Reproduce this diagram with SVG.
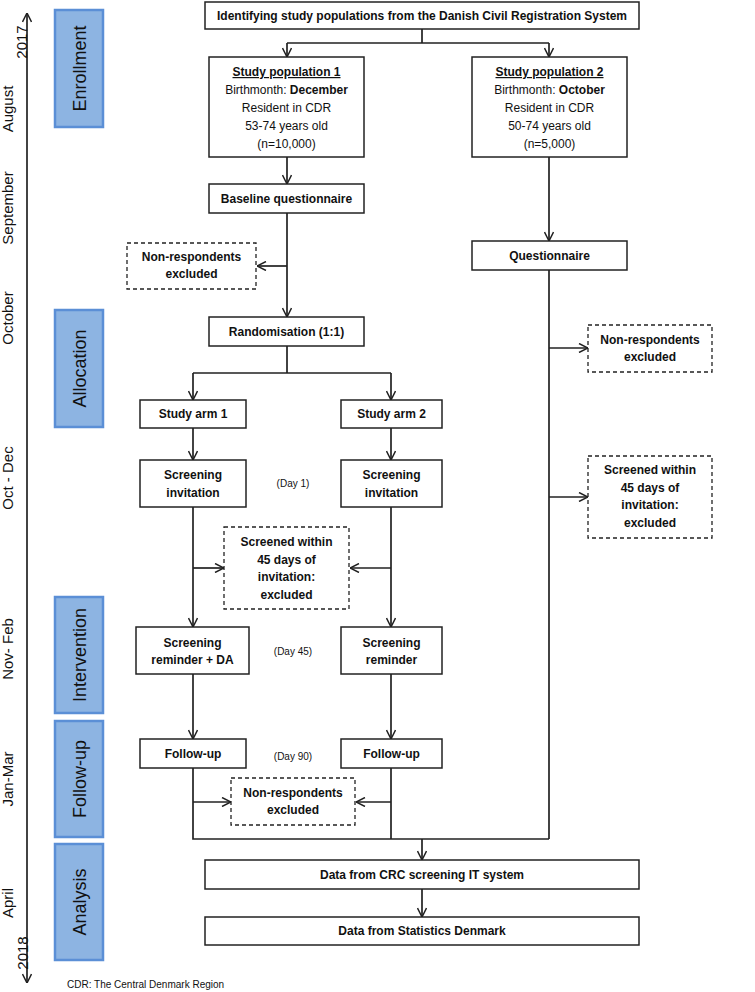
<svg xmlns="http://www.w3.org/2000/svg" width="755" height="992" viewBox="0 0 755 992">
<style>
.bx{fill:#fff;stroke:#222;stroke-width:1.5}
.ds{fill:#fff;stroke:#222;stroke-width:1.3;stroke-dasharray:4,3}
.ph{fill:#8db4e2;stroke:#5b8fd6;stroke-width:2.5}
.t{font-family:"Liberation Sans",Arial,sans-serif;font-size:12px;fill:#111;text-anchor:middle}
.b{font-weight:bold}
.pt{font-family:"Liberation Sans",Arial,sans-serif;font-size:18px;fill:#111;text-anchor:middle}
.mt{font-family:"Liberation Sans",Arial,sans-serif;font-size:15px;fill:#111;text-anchor:middle}
.sm{font-family:"Liberation Sans",Arial,sans-serif;font-size:10px;fill:#111;text-anchor:middle}
.c{fill:none;stroke:#222;stroke-width:1.7}
</style>
<defs>
<marker id="a" viewBox="0 0 10 10" refX="10" refY="5" markerWidth="10" markerHeight="10" markerUnits="userSpaceOnUse" orient="auto">
<path d="M1,0.5 L10,5 L1,9.5" fill="none" stroke="#222" stroke-width="1.5"/>
</marker>
</defs>
<g id="timeline">
<path class="c" d="M27,498 V13" marker-end="url(#a)"/>
<path class="c" d="M27,498 V983" marker-end="url(#a)"/>
<text class="mt" transform="translate(27,42) rotate(-90)">2017</text>
<text class="mt" transform="translate(13,109) rotate(-90)">August</text>
<text class="mt" transform="translate(13,208) rotate(-90)">September</text>
<text class="mt" transform="translate(13,318) rotate(-90)">October</text>
<text class="mt" transform="translate(13,478) rotate(-90)">Oct - Dec</text>
<text class="mt" transform="translate(13,649) rotate(-90)">Nov- Feb</text>
<text class="mt" transform="translate(13,779) rotate(-90)">Jan-Mar</text>
<text class="mt" transform="translate(13,903) rotate(-90)">April</text>
<text class="mt" transform="translate(28,953) rotate(-90)">2018</text>
</g>
<g id="phase-enrollment"><rect class="ph" x="55" y="10" width="48" height="117"/><text class="pt" transform="translate(85.5,68.5) rotate(-90)">Enrollment</text></g>
<g id="phase-allocation"><rect class="ph" x="55" y="310" width="48" height="117"/><text class="pt" transform="translate(85.5,368.5) rotate(-90)">Allocation</text></g>
<g id="phase-intervention"><rect class="ph" x="55" y="597" width="48" height="116"/><text class="pt" transform="translate(85.5,655) rotate(-90)">Intervention</text></g>
<g id="phase-followup"><rect class="ph" x="55" y="721" width="48" height="116"/><text class="pt" transform="translate(85.5,779) rotate(-90)">Follow-up</text></g>
<g id="phase-analysis"><rect class="ph" x="55" y="844" width="48" height="116"/><text class="pt" transform="translate(85.5,902) rotate(-90)">Analysis</text></g>

<g id="connectors">
<path class="c" d="M422,29 V43 M287,43 H549"/>
<path class="c" d="M287,43 V57" marker-end="url(#a)"/>
<path class="c" d="M549,43 V57" marker-end="url(#a)"/>
<path class="c" d="M287,157 V184" marker-end="url(#a)"/>
<path class="c" d="M287,213 V317" marker-end="url(#a)"/>
<path class="c" d="M287,266 H257" marker-end="url(#a)"/>
<path class="c" d="M549,157 V241" marker-end="url(#a)"/>
<path class="c" d="M549,270 V839"/>
<path class="c" d="M549,348 H588" marker-end="url(#a)"/>
<path class="c" d="M549,497 H588" marker-end="url(#a)"/>
<path class="c" d="M287,346 V373 M193,373 H391"/>
<path class="c" d="M193,373 V400" marker-end="url(#a)"/>
<path class="c" d="M391,373 V400" marker-end="url(#a)"/>
<path class="c" d="M193,428 V460" marker-end="url(#a)"/>
<path class="c" d="M391,428 V460" marker-end="url(#a)"/>
<path class="c" d="M193,507 V627" marker-end="url(#a)"/>
<path class="c" d="M391,507 V627" marker-end="url(#a)"/>
<path class="c" d="M193,568 H224" marker-end="url(#a)"/>
<path class="c" d="M391,568 H350" marker-end="url(#a)"/>
<path class="c" d="M193,674 V739" marker-end="url(#a)"/>
<path class="c" d="M391,674 V739" marker-end="url(#a)"/>
<path class="c" d="M193,768 V839 H549 M391,768 V839"/>
<path class="c" d="M193,802 H231" marker-end="url(#a)"/>
<path class="c" d="M391,802 H356" marker-end="url(#a)"/>
<path class="c" d="M422,839 V860" marker-end="url(#a)"/>
<path class="c" d="M422,889 V917" marker-end="url(#a)"/>
</g>

<g id="n-identify"><rect class="bx" x="205" y="2" width="434" height="27"/><text class="t b" x="422" y="20">Identifying study populations from the Danish Civil Registration System</text></g>
<g id="n-pop1"><rect class="bx" x="209" y="57" width="155" height="100"/>
<text class="t" x="286.5" y="76"><tspan class="b" text-decoration="underline">Study population 1</tspan><tspan x="286.5" dy="18">Birthmonth: <tspan class="b">December</tspan></tspan><tspan x="286.5" dy="18">Resident in CDR</tspan><tspan x="286.5" dy="18">53-74 years old</tspan><tspan x="286.5" dy="18">(n=10,000)</tspan></text></g>
<g id="n-pop2"><rect class="bx" x="472" y="57" width="155" height="100"/>
<text class="t" x="549.5" y="76"><tspan class="b" text-decoration="underline">Study population 2</tspan><tspan x="549.5" dy="18">Birthmonth: <tspan class="b">October</tspan></tspan><tspan x="549.5" dy="18">Resident in CDR</tspan><tspan x="549.5" dy="18">50-74 years old</tspan><tspan x="549.5" dy="18">(n=5,000)</tspan></text></g>
<g id="n-baseline"><rect class="bx" x="209" y="184" width="155" height="29"/><text class="t b" x="286.5" y="203">Baseline questionnaire</text></g>
<g id="n-nonresp1"><rect class="ds" x="127" y="243" width="129" height="46"/><text class="t b" x="191.5" y="261">Non-respondents<tspan x="191.5" dy="17">excluded</tspan></text></g>
<g id="n-quest"><rect class="bx" x="472" y="241" width="155" height="29"/><text class="t b" x="549.5" y="260">Questionnaire</text></g>
<g id="n-nonresp2"><rect class="ds" x="588" y="325" width="124" height="47"/><text class="t b" x="650" y="344">Non-respondents<tspan x="650" dy="17">excluded</tspan></text></g>
<g id="n-rand"><rect class="bx" x="209" y="317" width="155" height="29"/><text class="t b" x="286.5" y="336">Randomisation (1:1)</text></g>
<g id="n-arm1"><rect class="bx" x="140" y="400" width="106" height="28"/><text class="t b" x="193" y="418">Study arm 1</text></g>
<g id="n-arm2"><rect class="bx" x="341" y="400" width="101" height="28"/><text class="t b" x="391.5" y="418">Study arm 2</text></g>
<g id="n-inv1"><rect class="bx" x="140" y="460" width="106" height="47"/><text class="t b" x="193" y="479">Screening<tspan x="193" dy="18">invitation</tspan></text></g>
<g id="n-inv2"><rect class="bx" x="341" y="460" width="101" height="47"/><text class="t b" x="391.5" y="479">Screening<tspan x="391.5" dy="18">invitation</tspan></text></g>
<text class="sm" x="293" y="487">(Day 1)</text>
<g id="n-screened1"><rect class="ds" x="224" y="527" width="125" height="82"/><text class="t b" x="286.5" y="546">Screened within<tspan x="286.5" dy="17.7">45 days of</tspan><tspan x="286.5" dy="17.7">invitation:</tspan><tspan x="286.5" dy="17.7">excluded</tspan></text></g>
<g id="n-screened2"><rect class="ds" x="588" y="456" width="124" height="82"/><text class="t b" x="650" y="474">Screened within<tspan x="650" dy="17.7">45 days of</tspan><tspan x="650" dy="17.7">invitation:</tspan><tspan x="650" dy="17.7">excluded</tspan></text></g>
<g id="n-rem1"><rect class="bx" x="136" y="627" width="113" height="47"/><text class="t b" x="192.5" y="647">Screening<tspan x="192.5" dy="17">reminder + DA</tspan></text></g>
<g id="n-rem2"><rect class="bx" x="341" y="627" width="101" height="47"/><text class="t b" x="391.5" y="647">Screening<tspan x="391.5" dy="17">reminder</tspan></text></g>
<text class="sm" x="293" y="655">(Day 45)</text>
<g id="n-fu1"><rect class="bx" x="140" y="739" width="106" height="29"/><text class="t b" x="193" y="758">Follow-up</text></g>
<g id="n-fu2"><rect class="bx" x="341" y="739" width="101" height="29"/><text class="t b" x="391.5" y="758">Follow-up</text></g>
<text class="sm" x="293" y="760">(Day 90)</text>
<g id="n-nonresp3"><rect class="ds" x="231" y="778" width="124" height="47"/><text class="t b" x="293" y="797">Non-respondents<tspan x="293" dy="17">excluded</tspan></text></g>
<g id="n-crc"><rect class="bx" x="205" y="860" width="434" height="29"/><text class="t b" x="422" y="879">Data from CRC screening IT system</text></g>
<g id="n-stat"><rect class="bx" x="205" y="917" width="434" height="28"/><text class="t b" x="422" y="935">Data from Statistics Denmark</text></g>
<text x="67" y="988" style="font-family:'Liberation Sans',Arial,sans-serif;font-size:10px;fill:#111">CDR: The Central Denmark Region</text>
</svg>
